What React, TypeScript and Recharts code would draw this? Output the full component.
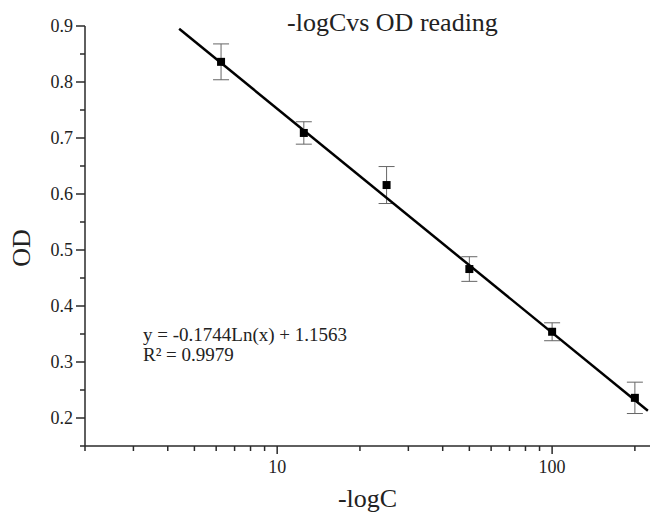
import { ComposedChart, ErrorBar, Label, Line, Scatter, XAxis, YAxis } from 'recharts'

const concentrations = [6.25, 12.5, 25, 50, 100, 200]
const odReadings = [0.836, 0.709, 0.616, 0.466, 0.354, 0.236]
const odErrors = [0.032, 0.02, 0.033, 0.022, 0.016, 0.028]

// fitted log trend line, ends
const fitX = [4.4, 223]
const fitY = [0.895, 0.213]

const xTicks = [2, 3, 4, 5, 6, 7, 8, 9, 10, 20, 30, 40, 50, 60, 70, 80, 90, 100, 200]
const xLabelled = [10, 100]
const yTicks = [0.15, 0.2, 0.25, 0.3, 0.35, 0.4, 0.45, 0.5, 0.55, 0.6, 0.65, 0.7, 0.75, 0.8, 0.85, 0.9]
const yLabelled = [0.2, 0.3, 0.4, 0.5, 0.6, 0.7, 0.8, 0.9]

const font = '"Liberation Serif", "Times New Roman", serif'
const axisColor = '#2a2a2a'

const points = concentrations.map((x, i) => ({ x, y: odReadings[i], err: odErrors[i] }))
const fit = fitX.map((x, i) => ({ x, y: fitY[i] }))

function XTick({ x, y, payload }: any) {
  const major = xLabelled.includes(payload.value)
  return (
    <g>
      <line x1={x} x2={x} y1={y} y2={y + (major ? 8 : 5)} stroke={axisColor} strokeWidth={1.5} />
      {major && (
        <text x={x} y={y + 27} textAnchor="middle" fontFamily={font} fontSize={18} fill="#222">
          {payload.value}
        </text>
      )}
    </g>
  )
}

function YTick({ x, y, payload }: any) {
  const major = yLabelled.some((v) => Math.abs(v - payload.value) < 1e-6)
  return (
    <g>
      <line x1={x} x2={x - (major ? 9 : 5)} y1={y} y2={y} stroke={axisColor} strokeWidth={1.5} />
      {major && (
        <text x={x - 12} y={y} dy="0.36em" textAnchor="end" fontFamily={font} fontSize={18} fill="#222">
          {payload.value.toFixed(1)}
        </text>
      )}
    </g>
  )
}

export default function App() {
  return (
    <div style={{ position: 'absolute', left: 0, top: 0, width: 650, height: 514, background: '#fff' }}>
      <ComposedChart width={650} height={514} margin={{ top: 26, right: 0, bottom: 0, left: 0 }}>
        <XAxis
          dataKey="x"
          type="number"
          scale="log"
          domain={[2, 227]}
          allowDataOverflow
          ticks={xTicks}
          interval={0}
          tick={<XTick />}
          tickLine={false}
          tickSize={0}
          tickMargin={0}
          height={68}
          axisLine={{ stroke: axisColor, strokeWidth: 1.5 }}
        >
          <Label value="-logC" position="insideBottom" offset={7} fontFamily={font} fontSize={26} fill="#222" />
        </XAxis>
        <YAxis
          dataKey="y"
          type="number"
          domain={[0.15, 0.9]}
          allowDataOverflow
          ticks={yTicks}
          interval={0}
          tick={<YTick />}
          tickLine={false}
          tickSize={0}
          tickMargin={0}
          width={85}
          axisLine={{ stroke: axisColor, strokeWidth: 1.5 }}
        >
          <Label
            content={({ viewBox }: any) => {
              const cy = viewBox.y + viewBox.height / 2 + 12
              return (
                <text x={30} y={cy} transform={`rotate(-90 30 ${cy})`} textAnchor="middle" fontFamily={font} fontSize={26} fill="#222">
                  OD
                </text>
              )
            }}
          />
        </YAxis>
        <Scatter data={points} dataKey="y" fill="#000" shape="square" isAnimationActive={false}>
          <ErrorBar dataKey="err" direction="y" width={8} stroke="#666" strokeWidth={1} />
        </Scatter>
        <Line data={fit} dataKey="y" type="linear" stroke="#000" strokeWidth={2.5} dot={false} activeDot={false} isAnimationActive={false} />
      </ComposedChart>
      <div style={{ position: 'absolute', left: 287, top: 10, fontFamily: font, fontSize: 26, lineHeight: '26px', color: '#222', whiteSpace: 'nowrap' }}>
        -logCvs OD reading
      </div>
      <div style={{ position: 'absolute', left: 143, top: 325, fontFamily: font, fontSize: 19, lineHeight: '20px', color: '#222', whiteSpace: 'nowrap' }}>
        y = -0.1744Ln(x) + 1.1563
        <br />
        R² = 0.9979
      </div>
    </div>
  )
}
